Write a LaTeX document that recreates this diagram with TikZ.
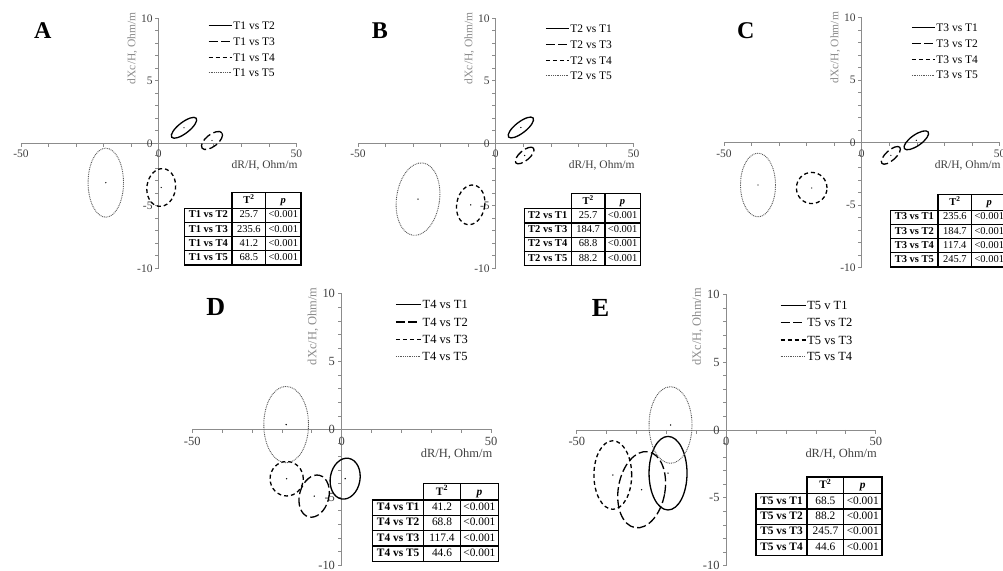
\documentclass[tikz,border=0pt]{standalone}
\usepackage{fontspec}
\setmainfont{Liberation Serif}
\usepackage{array}
\definecolor{axgray}{gray}{0.55}
\definecolor{lblgray}{gray}{0.25}

\newcommand{\plotaxes}{%
  \draw[axisln] (-137.75,0) -- (137.75,0);
  \draw[axisln] (0,-125) -- (0,125);
  \foreach \i in {-5,...,5} \draw[axisln] (\i*27.55,0) -- ++(0,-3.5);
  \foreach \j in {-10,...,10} \draw[axisln] (0,\j*12.5) -- ++(-3.5,0);
  \foreach \j in {-10,-5,0,5,10} \node[ticklbl,anchor=east] (ty\j) at (-5,\j*12.5) {\j};
  \foreach \i in {-50,0,50} \node[ticklbl,anchor=north] (tx\i) at (\i*2.755,-5.5) {\i};
  \node[ticklbl,anchor=east] (xtitle) at (140,-22.4) {dR/H, Ohm/m};
  \node[ticklbl,text=axgray,rotate=90] (ytitle) at (-26.5,95) {dXc/H, Ohm/m};
}
\newcommand{\confell}[6]{% style, name, centre, angle, rx, ry
  \coordinate (#2) at #3;
  \draw[#1, rotate around={#4:(#2)}] (#2) ellipse [x radius=#5, y radius=#6];
  \fill (#2) circle (0.7);
}
\newcommand{\stattab}[8]{%
  \fontsize{10.5}{13}\selectfont\setlength{\tabcolsep}{2pt}\setlength{\arrayrulewidth}{1.2pt}%
  \begin{tabular}{|>{\bfseries}w{c}{42pt}|w{c}{28.5pt}|w{c}{30pt}|}
    \cline{2-3}
    \multicolumn{1}{c|}{} & \textbf{T\textsuperscript{2}}\rule{0pt}{11.5pt} & \textbf{\textit{p}}\\ \hline
    #1 & #2 & <0.001\\ \hline
    #3 & #4 & <0.001\\ \hline
    #5 & #6 & <0.001\\ \hline
    #7 & #8 & <0.001\\ \hline
  \end{tabular}}

\begin{document}
\begin{tikzpicture}[x=1pt,y=1pt,
  axisln/.style={axgray,line width=0.8pt},
  ticklbl/.style={font=\fontsize{11.5}{13}\selectfont,text=lblgray,inner sep=1pt},
  panellbl/.style={font=\fontsize{24}{28}\selectfont\bfseries},
  legtxt/.style={right,inner sep=1pt,font=\fontsize{11.5}{13}\selectfont},
  solidln/.style={line width=1.3pt},
  ldash/.style={line width=1.3pt,dash pattern=on 9pt off 3.5pt},
  sdash/.style={line width=1.3pt,dash pattern=on 4pt off 3pt},
  dotln/.style={black!65,line width=0.9pt,dash pattern=on 0.9pt off 0.9pt},
  tabnode/.style={anchor=north west,inner sep=0pt}]
  \fill[white] (0,0) rectangle (1003,570);
  \useasboundingbox (0,0) rectangle (1003,570);
  \clip (0,0) rectangle (1003,570);

  % A
  \begin{scope}[shift={(158.7,426.7)}]
    \plotaxes
    \node[panellbl] (labA) at (-116,112.5) {A};
    \draw[solidln] (50,118) -- (73,118) node[legtxt] (legA1) {T1 vs T2};
    \draw[ldash] (50,102) -- (73,102) node[legtxt] (legA2) {T1 vs T3};
    \draw[sdash] (50,86) -- (73,86) node[legtxt] (legA3) {T1 vs T4};
    \draw[dotln] (50,70.5) -- (73,70.5) node[legtxt,text=black] (legA4) {T1 vs T5};
    \confell{solidln}{a1}{(25.3,15.5)}{37.8}{15.5}{5.5}
    \confell{ldash}{a2}{(53.3,2.8)}{38}{12.5}{6}
    \confell{sdash}{a3}{(2.5,-44.2)}{-8}{14.3}{19}
    \confell{dotln}{a4}{(-52.9,-39.4)}{0}{17.7}{34.5}
    \node[tabnode] (tabA) at (25.3,-48.7)
      {\stattab{T1 vs T2}{25.7}{T1 vs T3}{235.6}{T1 vs T4}{41.2}{T1 vs T5}{68.5}};
  \end{scope}

  % B
  \begin{scope}[shift={(495.8,426.7)}]
    \plotaxes
    \node[panellbl] (labB) at (-116,112.5) {B};
    \draw[solidln] (50,115) -- (73,115) node[legtxt] (legB1) {T2 vs T1};
    \draw[ldash] (50,99) -- (73,99) node[legtxt] (legB2) {T2 vs T3};
    \draw[sdash] (50,83) -- (73,83) node[legtxt] (legB3) {T2 vs T4};
    \draw[dotln] (50,67.5) -- (73,67.5) node[legtxt,text=black] (legB4) {T2 vs T5};
    \confell{solidln}{b1}{(25.05,15.8)}{37.8}{15.5}{5.5}
    \confell{ldash}{b2}{(28.85,-12.2)}{40}{11.5}{5}
    \confell{sdash}{b3}{(-25.1,-61.55)}{-10}{14}{20}
    \confell{dotln}{b4}{(-77.8,-55.85)}{-8}{21.5}{36.5}
    \node[tabnode] (tabB) at (27.5,-49.4)
      {\stattab{T2 vs T1}{25.7}{T2 vs T3}{184.7}{T2 vs T4}{68.8}{T2 vs T5}{88.2}};
  \end{scope}

  % C
  \begin{scope}[shift={(861.8,427.3)}]
    \plotaxes
    \node[panellbl] (labC) at (-116,112.5) {C};
    \draw[solidln] (50,115) -- (73,115) node[legtxt] (legC1) {T3 vs T1};
    \draw[ldash] (50,99) -- (73,99) node[legtxt] (legC2) {T3 vs T2};
    \draw[sdash] (50,83) -- (73,83) node[legtxt] (legC3) {T3 vs T4};
    \draw[dotln] (50,67.5) -- (73,67.5) node[legtxt,text=black] (legC4) {T3 vs T5};
    \confell{solidln}{c1}{(54.5,2.4)}{35}{14.5}{5.5}
    \confell{ldash}{c2}{(29.05,-12.65)}{42}{12}{5}
    \confell{sdash}{c3}{(-50.1,-45.3)}{0}{15.3}{15.6}
    \confell{dotln}{c4}{(-103.8,-42.3)}{0}{17.5}{31.8}
    \node[tabnode] (tabC) at (28.2,-51.3)
      {\stattab{T3 vs T1}{235.6}{T3 vs T2}{184.7}{T3 vs T4}{117.4}{T3 vs T5}{245.7}};
  \end{scope}

  % D
  \begin{scope}[shift={(341.7,140.5)},scale=1.085,transform shape]
    \plotaxes
    \node[panellbl] (labD) at (-116,112.5) {D};
    \draw[solidln] (50,115) -- (73,115) node[legtxt] (legD1) {T4 vs T1};
    \draw[ldash] (50,99) -- (73,99) node[legtxt] (legD2) {T4 vs T2};
    \draw[sdash] (50,83) -- (73,83) node[legtxt] (legD3) {T4 vs T3};
    \draw[dotln] (50,67.5) -- (73,67.5) node[legtxt,text=black] (legD4) {T4 vs T5};
    \confell{solidln}{d1}{(3.18,-45.3)}{-10}{13.7}{19}
    \confell{ldash}{d2}{(-25.4,-61.4)}{-15}{13.5}{19.8}
    \confell{sdash}{d3}{(-50.7,-45.35)}{0}{15.3}{15.9}
    \confell{dotln}{d4}{(-51.2,4.5)}{0}{20.6}{35.2}
    \node[tabnode] (tabD) at (27.6,-48.7)
      {\stattab{T4 vs T1}{41.2}{T4 vs T2}{68.8}{T4 vs T3}{117.4}{T4 vs T5}{44.6}};
  \end{scope}

  % E
  \begin{scope}[shift={(726.3,140)},scale=1.085,transform shape]
    \plotaxes
    \node[panellbl] (labE) at (-116,112.5) {E};
    \draw[solidln] (50,115) -- (73,115) node[legtxt] (legE1) {T5 v T1};
    \draw[ldash] (50,99) -- (73,99) node[legtxt] (legE2) {T5 vs T2};
    \draw[sdash] (50,83) -- (73,83) node[legtxt] (legE3) {T5 vs T3};
    \draw[dotln] (50,67.5) -- (73,67.5) node[legtxt,text=black] (legE4) {T5 vs T4};
    \confell{solidln}{e1}{(-53.7,-39.8)}{0}{17.5}{33.9}
    \confell{ldash}{e2}{(-78,-55)}{-10}{21.5}{35.5}
    \confell{sdash}{e3}{(-104.6,-41.5)}{0}{17.4}{31.6}
    \confell{dotln}{e4}{(-51.4,4.6)}{0}{19.8}{35.3}
    \node[tabnode] (tabE) at (26.5,-42.4)
      {\stattab{T5 vs T1}{68.5}{T5 vs T2}{88.2}{T5 vs T3}{245.7}{T5 vs T4}{44.6}};
  \end{scope}
\end{tikzpicture}
\end{document}
